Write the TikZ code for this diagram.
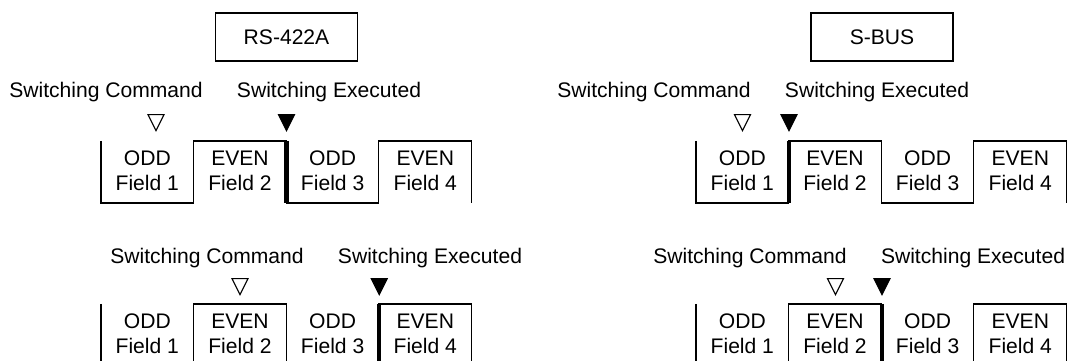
\documentclass[tikz,border=0pt]{standalone}
\usepackage{fontspec}
\setmainfont{Liberation Sans}
\usetikzlibrary{shapes.geometric,positioning}

\begin{document}
\begin{tikzpicture}[
  every node/.style={font=\fontsize{12}{14}\selectfont},
  fieldtxt/.style={align=center, inner sep=0pt},
  wave/.style={line width=0.6pt},
  switchbar/.style={line width=2.4pt},
  modebox/.style={draw, line width=0.6pt, minimum width=2.84cm, minimum height=0.96cm},
  cmdtri/.style={draw, line width=0.6pt, isosceles triangle, isosceles triangle stretches,
    shape border rotate=-90, minimum width=0.32cm, minimum height=0.32cm, inner sep=0pt, anchor=apex},
  exetri/.style={cmdtri, fill=black}]
  \useasboundingbox (0,0) rectangle (21.34,7.22);
  \clip (0,0) rectangle (21.34,7.22);

  % Mode titles
  \node[modebox] (rs) at (5.73, 6.48) {RS-422A};
  \node[modebox] (sbus) at (17.64, 6.48) {S-BUS};

  % Field waveforms (odd low, even high)
  \foreach \x/\y/\r in {2.02/4.40/ra, 13.92/4.40/sa, 2.02/1.14/rb, 13.92/1.14/sb} {
    \draw[wave] (\x,\y) -- ++(0,-1.24) -- ++(1.853,0) -- ++(0,1.24) -- ++(1.853,0)
      -- ++(0,-1.24) -- ++(1.853,0) -- ++(0,1.24) -- ++(1.853,0) -- ++(0,-1.24);
    \foreach \i/\kind in {1/ODD, 2/EVEN, 3/ODD, 4/EVEN}
      \node[fieldtxt] (\r\i) at ({\x+(\i-0.5)*1.853}, \y-0.60) {\kind\\Field \i};
  }

  % Switching points
  \draw[switchbar] (5.73, 4.40) -- (5.73, 3.16);
  \draw[switchbar] (15.78, 4.40) -- (15.78, 3.16);
  \draw[switchbar] (7.585, 1.14) -- (7.585, -0.10);
  \draw[switchbar] (17.64, 1.14) -- (17.64, -0.10);

  % RS-422A, top
  \node (racmd) at (2.12, 5.37) {Switching Command};
  \node (raexe) at (6.58, 5.37) {Switching Executed};
  \node[cmdtri] (racmdtri) at (3.12, 4.58) {};
  \node[exetri] (raexetri) at (5.73, 4.58) {};

  % S-BUS, top
  \node (sacmd) at (13.08, 5.37) {Switching Command};
  \node (saexe) at (17.54, 5.37) {Switching Executed};
  \node[cmdtri] (sacmdtri) at (14.85, 4.58) {};
  \node[exetri] (saexetri) at (15.78, 4.58) {};

  % RS-422A, bottom
  \node (rbcmd) at (4.14, 2.05) {Switching Command};
  \node (rbexe) at (8.60, 2.05) {Switching Executed};
  \node[cmdtri] (rbcmdtri) at (4.80, 1.30) {};
  \node[exetri] (rbexetri) at (7.585, 1.30) {};

  % S-BUS, bottom
  \node (sbcmd) at (15.00, 2.05) {Switching Command};
  \node (sbexe) at (19.46, 2.05) {Switching Executed};
  \node[cmdtri] (sbcmdtri) at (16.71, 1.30) {};
  \node[exetri] (sbexetri) at (17.64, 1.30) {};
\end{tikzpicture}
\end{document}
